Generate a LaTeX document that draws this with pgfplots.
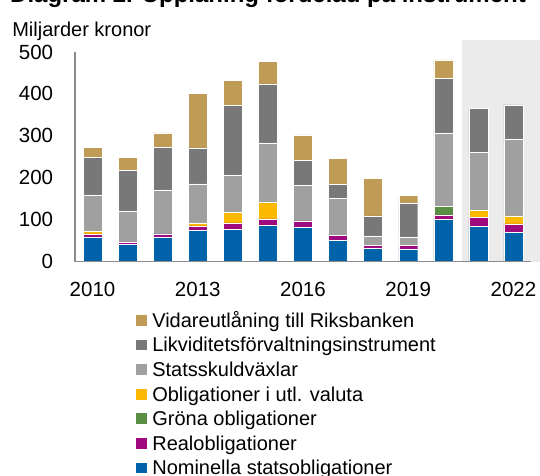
\documentclass[border=0pt]{standalone}
\usepackage{fontspec}
\setmainfont{Liberation Sans}
\usepackage{pgfplots}
\usepackage{pgfplotstable}
\pgfplotsset{compat=1.18}
\definecolor{vidcol}{HTML}{BF9B55}
\definecolor{likcol}{HTML}{787878}
\definecolor{ssvcol}{HTML}{A0A0A0}
\definecolor{utlcol}{HTML}{FBBA00}
\definecolor{grocol}{HTML}{5A8E44}
\definecolor{realcol}{HTML}{9E0A7E}
\definecolor{nomcol}{HTML}{0062A8}
\definecolor{bgshade}{HTML}{EBEBEB}
\definecolor{axgray}{HTML}{8C8C8C}

% year, nominella, real, grona, utl valuta, statsskuldvaxlar, likviditet, vidareutlaning
\pgfplotstableread{
year nom real gro utl ssv lik vid
2010 58  8  0  7  86  90  24
2011 41  6  0  0  73  97  32
2012 58  8  0  0 105 101  35
2013 74 11  0  7  93  86 130
2014 77 15  0 26  88 167  60
2015 86 16  0 39 142 141  54
2016 81 16  0  0  85  59  61
2017 50 12  0  0  88  34  62
2018 31  8  0  0  22  48  89
2019 30  8  0  0  20  80  20
2020 101 10 22 0 174 130  44
2021 84 21  0 17 139 105   0
2022 70 20  0 19 182  83   0
}\upplaning

\newcommand{\txt}{\fontsize{20bp}{24bp}\selectfont}

\begin{document}
\begin{tikzpicture}
\node[anchor=base west, inner sep=0pt, font=\bfseries\fontsize{24bp}{28bp}\selectfont]
  at (10bp,-2.5bp) {Diagram 2. Upplåning fördelad på instrument};
% prognosis area (2021-2022) behind the axis
\fill[bgshade] (462bp,-261.5bp) rectangle (540bp,-40bp);
\begin{axis}[
  at={(75bp,-261.5bp)},
  anchor=south west,
  scale only axis,
  width=456bp,
  height=209.5bp,
  xmin=2009.5, xmax=2022.5,
  ymin=0, ymax=500,
  clip=false,
  axis on top,
  ybar stacked,
  bar width=0.54,
  xtick={2010,2013,2016,2019,2022},
  ytick={0,100,200,300,400,500},
  major tick length=0pt,
  axis x line*=bottom,
  axis y line*=left,
  axis line style={draw=axgray, line width=1.2bp},
  /pgf/number format/1000 sep={},
  /pgf/number format/assume math mode=true,
  tick label style={font=\fontsize{20.5bp}{24bp}\selectfont, inner sep=0pt},
  xticklabel style={anchor=north, yshift=-20.5bp},
  yticklabel style={anchor=east, xshift=-21.7bp},
  ylabel={Miljarder kronor},
  every axis y label/.style={at={(axis description cs:-0.138,1.076)}, anchor=base west, font=\txt, inner sep=0pt},
  reverse legend,
  legend cell align=left,
  legend image code/.code={\fill[#1] (0bp,-5.85bp) rectangle (11.7bp,5.85bp);},
  legend style={
    at={(axis description cs:0.1316,-0.2444)}, anchor=north west,
    draw=none, fill=none, inner sep=0pt,
    font=\txt, row sep=10.3bp, column sep=0pt,
    nodes={inner sep=0pt, text height=14.3bp, text depth=0pt},
    /tikz/every odd column/.append style={column sep=5bp},
  },
]
\addplot[fill=nomcol, draw=white, line width=0.4bp] table[x=year, y=nom] {\upplaning};
\addlegendentry{Nominella statsobligationer}
\addplot[fill=realcol, draw=white, line width=0.4bp] table[x=year, y=real] {\upplaning};
\addlegendentry{Realobligationer}
\addplot[fill=grocol, draw=white, line width=0.4bp] table[x=year, y=gro] {\upplaning};
\addlegendentry{Gröna obligationer}
\addplot[fill=utlcol, draw=white, line width=0.4bp] table[x=year, y=utl] {\upplaning};
\addlegendentry{Obligationer i utl. valuta}
\addplot[fill=ssvcol, draw=white, line width=0.4bp] table[x=year, y=ssv] {\upplaning};
\addlegendentry{Statsskuldväxlar}
\addplot[fill=likcol, draw=white, line width=0.4bp] table[x=year, y=lik] {\upplaning};
\addlegendentry{Likviditetsförvaltningsinstrument}
\addplot[fill=vidcol, draw=white, line width=0.4bp] table[x=year, y=vid] {\upplaning};
\addlegendentry{Vidareutlåning till Riksbanken}
\end{axis}
\pgfresetboundingbox
\path[use as bounding box] (0,0) rectangle (540bp,-476bp);
\end{tikzpicture}
\end{document}
